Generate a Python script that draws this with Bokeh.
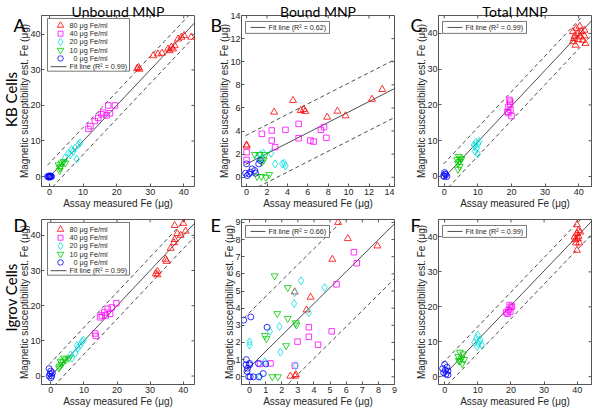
import math
from bokeh.plotting import figure
from bokeh.models import FixedTicker, Range1d, GridBox
from bokeh.core.properties import value
from bokeh.embed import file_html
from bokeh.resources import INLINE

# ---------------- data ----------------
GROUP_LABELS = ["80 \u03bcg Fe/ml", "40 \u03bcg Fe/ml", "20 \u03bcg Fe/ml", "10 \u03bcg Fe/ml", "\u20070 \u03bcg Fe/ml"]

# Panel A  (KB cells, unbound)
A_x80 = [26.1, 26.5, 26.8, 30.9, 32.3, 33.5, 35.3, 35.8, 36.3, 36.8, 37.3, 38.3, 39.3, 40.1, 42.2]
A_y80 = [30.4, 30.7, 30.2, 34.0, 34.5, 34.7, 35.9, 35.4, 36.4, 35.9, 36.8, 38.7, 39.2, 39.7, 39.2]
A_x40 = [11.6, 12.2, 13.5, 14.5, 15.5, 16.0, 17.0, 18.0, 17.5, 19.5]
A_y40 = [13.4, 14.2, 15.6, 16.5, 17.5, 18.0, 17.2, 17.8, 20.0, 20.0]
A_x20 = [4.6, 5.6, 6.1, 6.6, 7.1, 7.6, 8.1, 8.6, 9.1]
A_y20 = [5.2, 6.6, 6.1, 7.6, 7.1, 8.0, 4.9, 9.0, 9.5]
A_x10 = [2.7, 3.0, 3.1, 3.3, 3.6, 4.2, 4.7]
A_y10 = [3.3, 1.7, 2.4, 2.8, 3.8, 4.2, 3.8]
A_x0 = [-0.6, -0.3, 0.0, 0.2, 0.4, 0.1, -0.2, 0.6]
A_y0 = [0.0, 0.1, 0.0, -0.1, 0.1, 0.2, -0.2, 0.0]

# Panel B  (KB cells, bound)
B_x80 = [0.0, 0.0, 2.7, 4.55, 5.3, 5.6, 5.75, 7.9, 8.9, 9.7, 12.3, 13.3]
B_y80 = [2.8, 2.7, 5.64, 6.65, 5.78, 5.87, 5.7, 5.2, 5.72, 5.32, 6.75, 7.6]
B_x40 = [0.0, 0.0, 1.5, 2.47, 2.47, 2.79, 3.81, 5.1, 5.1, 6.25, 6.57, 7.28, 7.6, 7.82]
B_y40 = [2.17, 1.5, 3.76, 4.05, 3.18, 2.6, 4.1, 4.62, 3.38, 3.18, 3.09, 4.1, 4.34, 3.41]
B_x20 = [1.03, 1.35, 1.67, 2.4, 1.5, 2.79, 3.49, 3.69, 3.81]
B_y20 = [1.73, 1.97, 2.08, 2.08, 1.59, 1.16, 1.16, 1.21, 0.98]
B_x10 = [0.8, 1.25, 1.83, 1.67, 1.5, 1.03, 1.44, 1.89, 2.21]
B_y10 = [1.97, 1.97, 1.97, 1.5, 1.3, 0.06, 0.06, 0.0, 0.23]
B_x0 = [0.0, -0.1, 0.06, 0.22, 0.38, 0.54, 0.8, 0.87, 1.19, 1.35]
B_y0 = [1.16, 0.35, 0.14, 0.29, 0.43, 0.72, 0.58, 0.35, 1.16, 1.45]

# Panel C  (KB cells, total)
C_x80 = [38.3, 38.8, 39.3, 39.8, 40.3, 40.8, 41.2, 41.7, 41.7, 38.3, 39.0, 42.0, 39.8, 40.6, 38.6]
C_y80 = [40.5, 39.3, 41.4, 40.0, 42.0, 40.5, 38.1, 40.9, 39.3, 37.7, 36.7, 37.2, 38.3, 39.0, 38.6]
C_x40 = [19.4, 19.6, 19.1, 19.7, 19.1, 20.0, 18.8, 19.6]
C_y40 = [21.4, 20.3, 19.5, 18.6, 17.7, 16.9, 18.1, 20.9]
C_x20 = [9.4, 10.1, 9.0, 9.7, 9.2, 10.0, 8.8, 10.4]
C_y20 = [9.5, 9.1, 8.4, 7.9, 7.0, 6.3, 8.8, 9.8]
C_x10 = [4.3, 4.9, 3.9, 4.6, 4.1, 4.6, 4.1, 5.1]
C_y10 = [5.6, 5.1, 4.7, 4.2, 3.7, 2.8, 2.0, 4.8]
C_x0 = [0.1, 0.5, -0.2, 0.3, 0.8, 0.0]
C_y0 = [1.1, 0.5, 0.2, 0.7, 0.0, 0.0]

# Panel D  (Igrov cells, unbound)
D_x80 = [40.0, 37.4, 40.7, 38.2, 37.4, 39.2, 37.2, 36.2, 34.7, 35.0, 32.2, 31.7, 32.2]
D_y80 = [43.4, 42.8, 41.2, 40.5, 38.8, 40.0, 37.9, 36.3, 33.2, 32.6, 29.8, 29.1, 28.8]
D_x40 = [19.8, 18.4, 17.2, 17.9, 16.2, 15.4, 16.6, 14.9, 13.4, 13.6]
D_y40 = [20.7, 19.5, 19.1, 17.7, 18.1, 17.2, 17.2, 16.7, 12.1, 11.4]
D_x20 = [9.4, 8.9, 8.2, 7.4, 6.4, 6.0, 9.9, 7.9]
D_y20 = [9.8, 8.8, 7.9, 6.5, 5.1, 6.0, 10.2, 8.7]
D_x10 = [4.0, 3.0, 4.5, 2.7, 3.3, 3.7, 2.5, 5.5]
D_y10 = [5.1, 4.2, 4.65, 2.8, 3.3, 4.0, 2.3, 5.1]
D_x0 = [-0.5, 0.0, -0.2, 0.3, -0.5, 0.0, 0.5]
D_y0 = [2.1, 1.4, 0.65, 0.0, 0.0, -0.5, 0.9]

# Panel E  (Igrov cells, bound)
E_x80 = [5.5, 6.1, 7.94, 5.14, 3.54, 3.79, 2.8, 2.53, 2.83, 2.87]
E_y80 = [9.0, 8.06, 7.63, 6.85, 3.9, 4.64, 4.95, 0.04, 0.04, 0.13]
E_x40 = [6.48, 6.66, 5.4, 3.68, 3.68, 5.1, 4.25, 2.98, 1.3, 0.65, 2.81]
E_y40 = [7.26, 6.62, 5.39, 2.89, 2.33, 2.65, 1.87, 2.05, 0.78, 0.75, 0.65]
E_x20 = [3.2, 4.66, 2.77, 3.68, 1.26, 1.86, 1.92, 0.0, 0.0, 2.87, 0.65, 0.95, 2.8]
E_y20 = [5.6, 5.2, 4.27, 3.73, 2.65, 2.93, 1.44, 2.03, 1.85, 0.65, 0.0, 0.88, 4.9]
E_x10 = [1.56, 2.37, 1.72, 2.37, 2.91, 2.87, 0.95, 1.05, 2.27, 1.42, 1.76]
E_y10 = [5.88, 5.2, 3.68, 3.4, 3.02, 3.15, 2.41, 2.22, 1.81, 0.0, 0.0]
E_x0 = [-0.36, 0.08, 1.09, -0.2, 0.0, 0.0, -0.22, -0.12, -0.06, 0.04, 0.24, 0.57, 0.85, 1.01, 0.55, -0.16]
E_y0 = [3.3, 3.49, 2.89, 1.0, 0.78, 0.69, 0.69, 0.5, 0.0, 0.0, 0.0, 0.0, 0.19, 0.75, 0.78, 0.32]

# Panel F  (Igrov cells, total)
F_x80 = [39.9, 40.4, 39.9, 40.9, 39.4, 40.2, 39.6, 40.6, 39.9, 39.2, 40.4]
F_y80 = [43.5, 41.9, 41.0, 41.4, 39.2, 39.5, 38.3, 38.3, 36.2, 40.0, 40.2]
F_x40 = [19.6, 20.0, 19.3, 18.6, 19.0, 20.3, 19.8]
F_y40 = [20.5, 19.9, 19.1, 18.4, 18.0, 20.1, 18.6]
F_x20 = [10.0, 9.5, 10.8, 9.0, 10.2, 11.2, 9.8, 10.5]
F_y20 = [11.9, 11.0, 10.5, 9.8, 9.4, 9.1, 8.6, 10.0]
F_x10 = [4.6, 5.6, 4.1, 5.1, 5.9, 4.6, 5.3, 4.3]
F_y10 = [7.0, 6.5, 5.8, 5.3, 4.9, 4.4, 3.7, 4.6]
F_x0 = [0.0, 0.7, -0.6, 0.2, 1.0, -0.3, 0.4, 1.0]
F_y0 = [3.5, 2.7, 2.3, 1.8, 1.6, 1.1, 0.7, 0.5]

# fit lines (slope, intercept, half-width of dashed band) and R^2 per panel
FIT_SLOPE = [1.0, 0.45, 1.0, 1.0, 0.93, 0.99]
FIT_INTERCEPT = [0.0, 1.15, -0.3, 0.0, 0.55, 0.6]
FIT_BAND = [3.8, 2.5, 4.0, 3.8, 3.2, 3.8]
R2 = ["0.99", "0.62", "0.99", "0.99", "0.66", "0.99"]

PANEL_LETTERS = ["A", "B", "C", "D", "E", "F"]
COL_TITLES = ["Unbound MNP", "Bound MNP", "Total MNP"]
ROW_TITLES = ["KB Cells", "Igrov Cells"]

# ---------------- styling / layout ----------------
MARKERS = ["triangle", "square", "diamond", "inverted_triangle", "circle"]
SIZES = [7, 5.5, 8, 7, 6]
COLORS = ["#ff0000", "#ff00ff", "#00dede", "#00cc00", "#0000ff"]
AX = "#555555"
TXT = "#262626"
LINEC = "#3a3a3a"
AXFONT = "Liberation Sans"
TFONT = "Lato"

panels = [
    ([A_x80, A_x40, A_x20, A_x10, A_x0], [A_y80, A_y40, A_y20, A_y10, A_y0]),
    ([B_x80, B_x40, B_x20, B_x10, B_x0], [B_y80, B_y40, B_y20, B_y10, B_y0]),
    ([C_x80, C_x40, C_x20, C_x10, C_x0], [C_y80, C_y40, C_y20, C_y10, C_y0]),
    ([D_x80, D_x40, D_x20, D_x10, D_x0], [D_y80, D_y40, D_y20, D_y10, D_y0]),
    ([E_x80, E_x40, E_x20, E_x10, E_x0], [E_y80, E_y40, E_y20, E_y10, E_y0]),
    ([F_x80, F_x40, F_x20, F_x10, F_x0], [F_y80, F_y40, F_y20, F_y10, F_y0]),
]

XR = [(-2.4, 43.2), (-0.5, 14.5), (-1.7, 43.8), (-2.8, 43.4), (-0.5, 9.0), (-1.85, 44.3)]
YR = [(-2.8, 45.3), (-0.8, 14.0), (-2.8, 45.0), (-2.4, 44.5), (-0.45, 9.17), (-2.25, 45.0)]
T40 = [0, 10, 20, 30, 40]
XT = [T40, list(range(0, 15, 2)), T40, T40, list(range(0, 10)), T40]
YT = [T40, list(range(0, 15, 2)), T40, T40, list(range(0, 10)), T40]

FW = 153
COL_L = [41, 36, 36]
COL_R = [11, 8, 7]
COL_W = [COL_L[k] + FW + COL_R[k] for k in range(3)]
ROW_T = [15, 8]
ROW_B = [24, 24]
ROW_FH = [172, 166]
ROW_H = [ROW_T[k] + ROW_FH[k] + ROW_B[k] for k in range(2)]
TOTAL_W = sum(COL_W)
TOTAL_H = sum(ROW_H)
LETTER_DX = [28, 31, 28]      # letter left edge, px left of the frame
LETTER_DY = [9, 5]            # letter baseline, px below the frame top
TITLE_RISE = 4                # column-title baseline, px above the frame top
ROW_LABEL_SHIFT = [-2, -5]    # row-title centre relative to the frame centre


def style_axis(ax, ticks, tick_standoff, label_standoff):
    ax.ticker = FixedTicker(ticks=ticks)
    ax.axis_line_color = AX
    ax.axis_line_width = 1
    ax.major_tick_line_color = AX
    ax.major_tick_in = 3
    ax.major_tick_out = 0
    ax.minor_tick_line_color = None
    ax.major_label_text_font = AXFONT
    ax.major_label_text_font_size = "9px"
    ax.major_label_text_color = TXT
    ax.major_label_standoff = tick_standoff
    ax.axis_label_text_font = AXFONT
    ax.axis_label_text_font_size = "10px"
    ax.axis_label_text_font_style = "normal"
    ax.axis_label_text_color = TXT
    ax.axis_label_standoff = label_standoff


def make_panel(i):
    r, c = divmod(i, 3)
    xr, yr = XR[i], YR[i]
    fh = ROW_FH[r]
    p = figure(width=COL_W[c], height=ROW_H[r],
               x_range=Range1d(*xr), y_range=Range1d(*yr),
               output_backend="svg", toolbar_location=None,
               min_border_left=COL_L[c], min_border_right=COL_R[c],
               min_border_top=ROW_T[r], min_border_bottom=ROW_B[r],
               background_fill_color="white", border_fill_color="white",
               outline_line_color=AX)
    p.xgrid.visible = False
    p.ygrid.visible = False
    p.xaxis.axis_label = "Assay measured Fe (\u03bcg)"
    p.yaxis.axis_label = "Magnetic susceptibility est. Fe (\u03bcg)"
    style_axis(p.xaxis[0], XT[i], 2, 0)
    style_axis(p.yaxis[0], YT[i], 1, -3)

    dx = (xr[1] - xr[0]) / FW
    dy = (yr[1] - yr[0]) / fh
    X = lambda px: xr[0] + px * dx
    Y = lambda py: yr[1] - py * dy

    # inward tick marks on the top and right edges of the box
    xt, yt = XT[i], YT[i]
    p.segment(x0=xt, y0=[yr[1]] * len(xt), x1=xt, y1=[yr[1] - 3 * dy] * len(xt),
              line_color=AX, line_width=1)
    p.segment(x0=[xr[1]] * len(yt), y0=yt, x1=[xr[1] - 3 * dx] * len(yt), y1=yt,
              line_color=AX, line_width=1)

    xs_list, ys_list = panels[i]

    # fit line and dashed band
    xmin = min(min(v) for v in xs_list)
    lx = [xmin, xr[1] + 1]
    s, b, w = FIT_SLOPE[i], FIT_INTERCEPT[i], FIT_BAND[i]
    p.line(lx, [s * x + b for x in lx], line_color=LINEC, line_width=0.9)
    for off in (w, -w):
        p.line(lx, [s * x + b + off for x in lx], line_color=LINEC,
               line_width=0.9, line_dash="4 3")

    # data points
    for g in range(5):
        p.scatter(xs_list[g], ys_list[g], marker=MARKERS[g], size=SIZES[g],
                  line_color=COLORS[g], fill_color=None, line_width=0.8)

    # legend box drawn inside the frame
    fit_label = "Fit line (R\u00b2 = %s)" % R2[i]
    tkw = dict(text_font=value(AXFONT), text_font_size=value("7.2px"),
               text_baseline=value("middle"), text_align=value("left"), text_color=TXT)
    if c == 0:
        p.quad(left=[X(6)], right=[X(88)], top=[Y(3)], bottom=[Y(56)],
               fill_color="white", line_color=AX, line_width=0.8)
        rows = [10 + 8.3 * k for k in range(6)]
        for g in range(5):
            p.scatter([X(19)], [Y(rows[g])], marker=MARKERS[g], size=SIZES[g] - 0.5,
                      line_color=COLORS[g], fill_color=None, line_width=0.8)
            p.text([X(28)], [Y(rows[g])], text=[GROUP_LABELS[g]], **tkw)
        p.line([X(9), X(25)], [Y(rows[5]), Y(rows[5])], line_color=LINEC, line_width=0.9)
        p.text([X(28)], [Y(rows[5])], text=[fit_label], **tkw)
    else:
        p.quad(left=[X(4)], right=[X(88)], top=[Y(6)], bottom=[Y(18)],
               fill_color="white", line_color=AX, line_width=0.8)
        p.line([X(9), X(24)], [Y(12), Y(12)], line_color=LINEC, line_width=0.9)
        p.text([X(27)], [Y(12)], text=[fit_label], **tkw)
    return p


figs = [make_panel(i) for i in range(6)]

# transparent overlay carrying the column titles, panel letters and row titles
ov = figure(width=TOTAL_W, height=TOTAL_H, x_range=Range1d(0, TOTAL_W),
            y_range=Range1d(0, TOTAL_H), output_backend="svg", toolbar_location=None,
            x_axis_location=None, y_axis_location=None, min_border=0, title=None,
            background_fill_color=None, border_fill_color=None, outline_line_color=None)
ov.grid.visible = False
try:
    ov.frame_align = False
except Exception:
    pass

col_left = [sum(COL_W[:k]) + COL_L[k] for k in range(3)]
row_top = [sum(ROW_H[:k]) + ROW_T[k] for k in range(2)]
to_y = lambda top_px: TOTAL_H - top_px

ov.text([col_left[k] + FW / 2 for k in range(3)], [to_y(row_top[0] - TITLE_RISE)] * 3,
        text=COL_TITLES, text_font=value(TFONT), text_font_size=value("14px"),
        text_align=value("center"), text_baseline=value("alphabetic"), text_color="#000000")

lx_, ly_ = [], []
for i in range(6):
    r, c = divmod(i, 3)
    lx_.append(col_left[c] - LETTER_DX[c])
    ly_.append(to_y(row_top[r] + LETTER_DY[r]))
ov.text(lx_, ly_, text=PANEL_LETTERS, text_font=value(TFONT), text_font_size=value("18px"),
        text_align=value("left"), text_baseline=value("alphabetic"), text_color="#000000")

ov.text([1, 1], [to_y(row_top[k] + ROW_FH[k] / 2 + ROW_LABEL_SHIFT[k]) for k in range(2)],
        text=ROW_TITLES, angle=math.pi / 2, text_font=value(TFONT), text_font_size=value("15px"),
        text_align=value("center"), text_baseline=value("top"), text_color="#000000")

children = [(figs[i], i // 3, i % 3) for i in range(6)]
children.append((ov, 0, 0, 2, 3))
layout = GridBox(children=children, spacing=0)

open("out.html", "w").write(file_html(layout, INLINE))
